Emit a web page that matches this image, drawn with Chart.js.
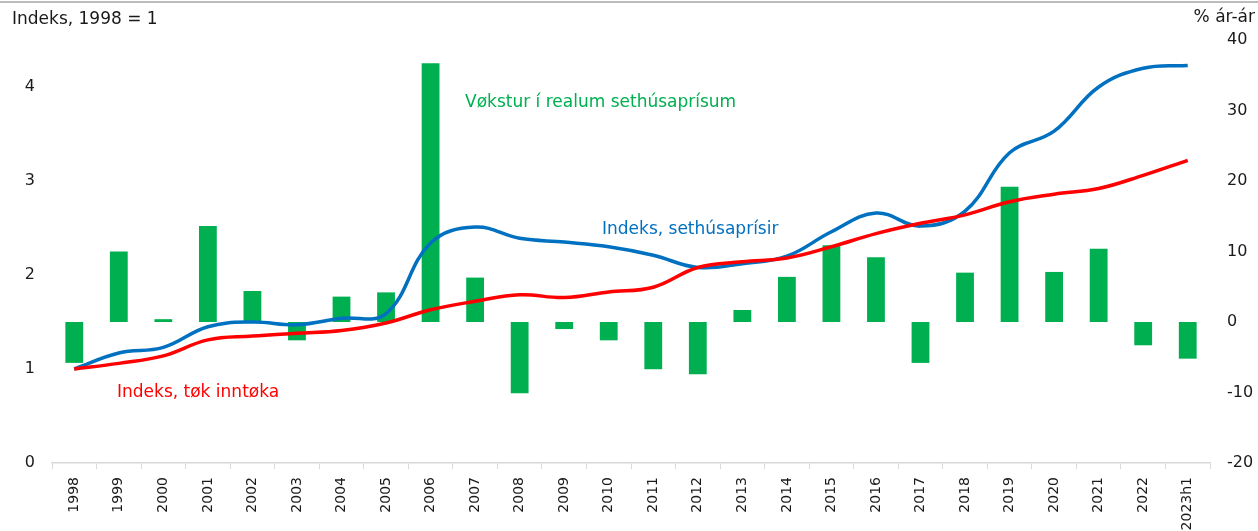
<!DOCTYPE html>
<html>
<head>
<meta charset="utf-8">
<script src="https://cdn.jsdelivr.net/npm/chart.js@4.4.1/dist/chart.umd.min.js"></script>
<style>
  html, body { margin: 0; padding: 0; background: #fff; }
  #wrap { width: 1258px; height: 531px; position: relative; }
</style>
</head>
<body>
<div id="wrap"><canvas id="graf"></canvas></div>
<script>
/* Sethúsaprísir og inntøka, 1998-2023h1 */

const AR = [
  "1998","1999","2000","2001","2002","2003","2004","2005","2006","2007",
  "2008","2009","2010","2011","2012","2013","2014","2015","2016","2017",
  "2018","2019","2020","2021","2022","2023h1",
]

// % ár-ár (høgri ás)
const VOKSTUR = [
  -5.8, 10.0, 0.4, 13.6, 4.4, -2.6, 3.6, 4.2, 36.7, 6.3,
  -10.1, -1.0, -2.6, -6.7, -7.4, 1.7, 6.4, 10.9, 9.2, -5.8,
  7.0, 19.2, 7.1, 10.4, -3.3, -5.2,
]

// Indeks, 1998 = 1 (vinstri ás)
const SETHUSAPRISIR = [
  1.00, 1.17, 1.23, 1.45, 1.50, 1.47, 1.54, 1.59, 2.34, 2.51,
  2.39, 2.35, 2.30, 2.21, 2.08, 2.12, 2.20, 2.46, 2.66, 2.52,
  2.68, 3.30, 3.53, 4.00, 4.20, 4.23,
]

const TOK_INNTOKA = [
  1.00, 1.06, 1.14, 1.31, 1.35, 1.38, 1.41, 1.49, 1.63, 1.72,
  1.79, 1.76, 1.82, 1.87, 2.08, 2.14, 2.18, 2.30, 2.44, 2.55,
  2.64, 2.78, 2.86, 2.92, 3.06, 3.22,
]

const VINSTRI_TICKS = [0, 1, 2, 3, 4]
const HOGRI_TICKS = [-20, -10, 0, 10, 20, 30, 40]

const GRONT = "#00b050"
const BLATT = "#0070c0"
const REYTT = "#ff0000"
const FONT = "'DejaVu Sans', Verdana, sans-serif"

// heiti og tekstir inni í myndini
const tekstir = {
  id: "tekstir",
  afterDraw(chart) {
    const ctx = chart.ctx
    ctx.save()
    // grá linja ovast
    ctx.strokeStyle = "#a6a6a6"
    ctx.lineWidth = 1.5
    ctx.beginPath()
    ctx.moveTo(0, 2)
    ctx.lineTo(chart.width, 2)
    ctx.stroke()

    ctx.font = "17px " + FONT
    ctx.textBaseline = "middle"
    ctx.fillStyle = "#1a1a1a"
    ctx.textAlign = "left"
    ctx.fillText("Indeks, 1998 = 1", 12, 20)
    ctx.textAlign = "right"
    ctx.fillText("% ár-ár", 1255, 18)

    ctx.textAlign = "left"
    ctx.fillStyle = GRONT
    ctx.fillText("Vøkstur í realum sethúsaprísum", 465, 103)
    ctx.fillStyle = BLATT
    ctx.fillText("Indeks, sethúsaprísir", 602, 230)
    ctx.fillStyle = REYTT
    ctx.fillText("Indeks, tøk inntøka", 117, 393)
    ctx.restore()
  }
}

new Chart(document.getElementById("graf"), {
  data: {
    labels: AR,
    datasets: [
      {
        type: "line",
        label: "Indeks, tøk inntøka",
        data: TOK_INNTOKA,
        yAxisID: "y",
        borderColor: REYTT,
        borderWidth: 3.5,
        pointRadius: 0,
        tension: 0.4,
        order: 0,
      },
      {
        type: "line",
        label: "Indeks, sethúsaprísir",
        data: SETHUSAPRISIR,
        yAxisID: "y",
        borderColor: BLATT,
        borderWidth: 3.5,
        pointRadius: 0,
        tension: 0.4,
        order: 1,
      },
      {
        type: "bar",
        label: "Vøkstur í realum sethúsaprísum",
        data: VOKSTUR,
        yAxisID: "y1",
        backgroundColor: GRONT,
        categoryPercentage: 1,
        barPercentage: 0.4,
        order: 2,
      },
    ]
  },
  options: {
    responsive: true,
    maintainAspectRatio: false,
    animation: false,
    layout: { padding: { top: 40, left: 0, right: 0, bottom: 0 } },
    plugins: {
      legend: { display: false },
      tooltip: { enabled: false },
    },
    scales: {
      x: {
        offset: true,
        grid: {
          display: true,
          drawOnChartArea: false,
          offset: true,
          tickLength: 6,
          color: "#d9d9d9",
        },
        border: { display: true, color: "#d9d9d9", width: 1.5 },
        ticks: {
          color: "#1a1a1a",
          font: { family: FONT, size: 14 },
          maxRotation: 90,
          minRotation: 90,
          padding: 8,
          autoSkip: false,
        },
        afterFit: s => { s.height = 68 },
      },
      y: {
        position: "left",
        min: 0,
        max: 4.5,
        grid: { display: false, drawTicks: false },
        border: { display: false },
        afterBuildTicks: s => { s.ticks = VINSTRI_TICKS.map(v => ({ value: v })) },
        ticks: {
          color: "#1a1a1a",
          font: { family: FONT, size: 16 },
          padding: 17,
        },
        afterFit: s => { s.width = 52 },
      },
      y1: {
        position: "right",
        min: -20,
        max: 40,
        grid: { display: false, drawTicks: false },
        border: { display: false },
        afterBuildTicks: s => { s.ticks = HOGRI_TICKS.map(v => ({ value: v })) },
        ticks: {
          color: "#1a1a1a",
          font: { family: FONT, size: 16 },
          crossAlign: "near",
          padding: 17,
        },
        afterFit: s => { s.width = 48 },
      },
    }
  },
  plugins: [tekstir]
})
</script>
</body>
</html>
